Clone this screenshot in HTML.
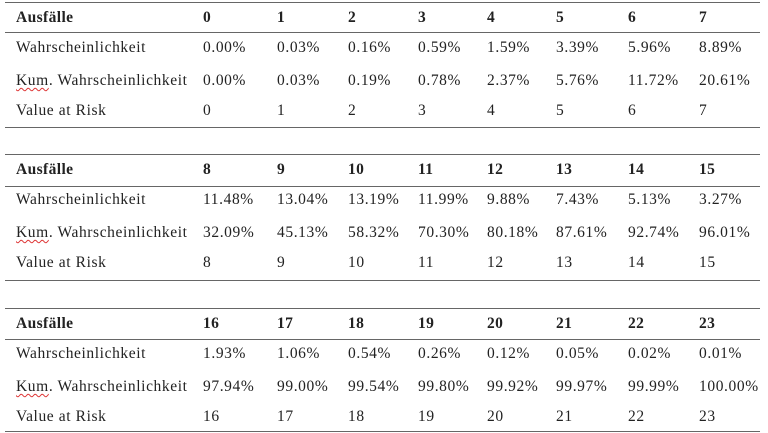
<!DOCTYPE html>
<html><head><meta charset="utf-8"><style>
body{margin:0;width:768px;height:433px;background:#fff;position:relative;overflow:hidden;font-family:"Liberation Serif",serif;font-size:15.5px;letter-spacing:0.6px;color:#222}
.t{position:absolute;white-space:nowrap;line-height:16px}
.b{font-weight:bold;letter-spacing:0.4px}
.l{position:absolute;left:5px;width:755px;height:1px;background:#666}
.sq{text-decoration:underline wavy #d33;text-decoration-thickness:1px;text-underline-offset:2px}
</style></head><body>
<script>
const counts=[["0","1","2","3","4","5","6","7"],["8","9","10","11","12","13","14","15"],["16","17","18","19","20","21","22","23"]];
const prob=[["0.00%","0.03%","0.16%","0.59%","1.59%","3.39%","5.96%","8.89%"],["11.48%","13.04%","13.19%","11.99%","9.88%","7.43%","5.13%","3.27%"],["1.93%","1.06%","0.54%","0.26%","0.12%","0.05%","0.02%","0.01%"]];
const cum=[["0.00%","0.03%","0.19%","0.78%","2.37%","5.76%","11.72%","20.61%"],["32.09%","45.13%","58.32%","70.30%","80.18%","87.61%","92.74%","96.01%"],["97.94%","99.00%","99.54%","99.80%","99.92%","99.97%","99.99%","100.00%"]];
const xs=[203,277,348,418,487,556,628,699];
const tops=[2,154,308];
const rowY=[18,48,81,111];
const lines=[[2,32,127],[154,186,280],[308,339,431]];
const root=document.body;
function txt(x,y,s,cls,name){const d=document.createElement('div');d.className='t '+(cls||'');d.style.left=x+'px';d.style.top=(y-8)+'px';d.innerHTML=s;


root.appendChild(d);}
for(let t=0;t<3;t++){
 const o=tops[t]-2;
 lines[t].forEach((y,i)=>{const l=document.createElement('div');l.className='l';l.style.top=y+'px';
 
 
 root.appendChild(l);});
 txt(16,o+rowY[0],'Ausfälle','b','header-label');
 txt(16,o+rowY[1],'Wahrscheinlichkeit','','row-label-prob');
 txt(16,o+rowY[2],'<span class="sq">Kum</span>. Wahrscheinlichkeit','','row-label-cum');
 txt(16,o+rowY[3],'Value at Risk','','row-label-var');
 for(let c=0;c<8;c++){
  txt(xs[c],o+rowY[0],counts[t][c],'b','header-count');
  txt(xs[c],o+rowY[1],prob[t][c],'','prob-cell');
  txt(xs[c],o+rowY[2],cum[t][c],'','cum-cell');
  txt(xs[c],o+rowY[3],counts[t][c],'','var-cell');
 }
}
</script>
</body></html>
